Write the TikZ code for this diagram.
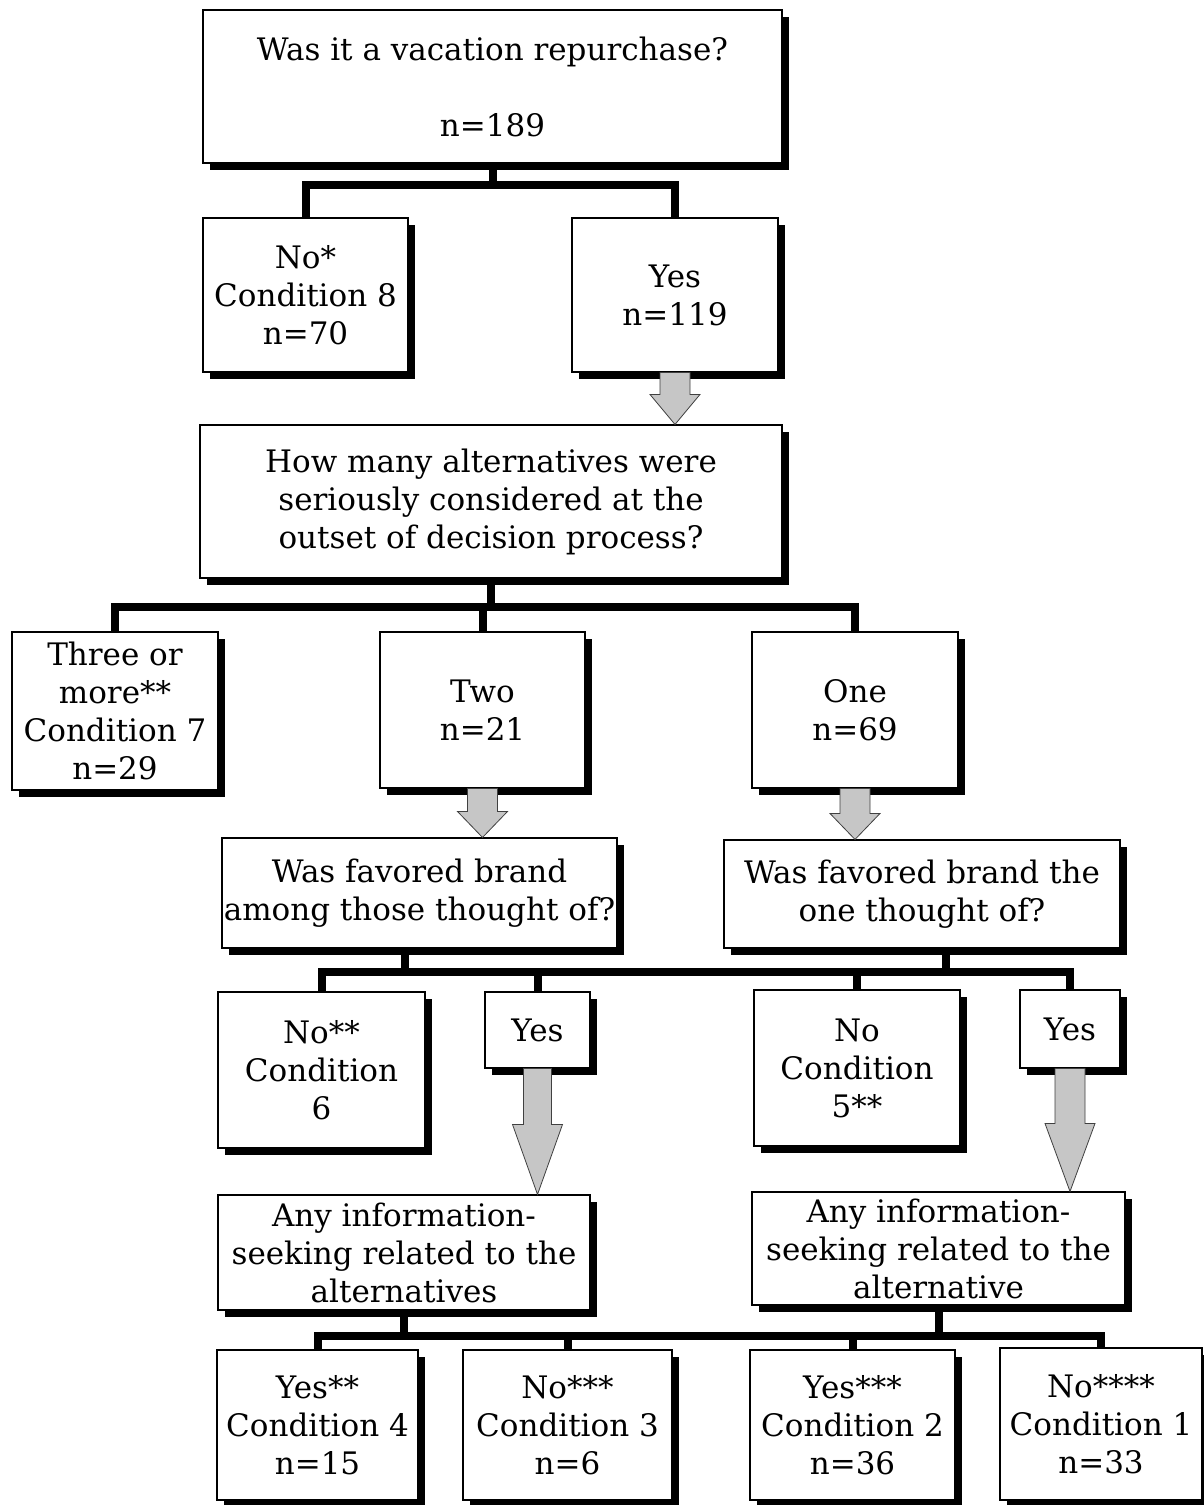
\documentclass[tikz,border=0pt]{standalone}
\usepackage{fontspec}
\setmainfont{DejaVu Serif}
\usetikzlibrary{calc,shadows,backgrounds}
\newcommand\fatarr[5]{%
  \path let \p1=(#1.south), \p2=(#2.north) in
    [fill=gray!45,draw=black!75,line width=0.8pt,line join=miter]
    (\x1-#3pt,\y1) -- (\x1+#3pt,\y1) -- (\x1+#3pt,\y2+#5pt) -- (\x1+#4pt,\y2+#5pt)
    -- (\x1,\y2) -- (\x1-#4pt,\y2+#5pt) -- (\x1-#3pt,\y2+#5pt) -- cycle;}
\tikzset{
  box/.style={draw=black,line width=1.1pt,fill=white,inner sep=0pt,align=center,
    font=\fontsize{31}{38}\selectfont,
    drop shadow={shadow xshift=7pt,shadow yshift=-7pt,opacity=1,fill=black}},
  conn/.style={draw=black,line width=8pt,line join=miter}
}
\begin{document}
\begin{tikzpicture}[x=1pt,y=-1pt]
\useasboundingbox (0,0) rectangle (1204,1505);
% nodes
\node[box,minimum width=579pt,minimum height=153pt] (q0) at (492.5,86.5) {Was it a vacation repurchase?\\[38pt]n=189};
\node[box,minimum width=205pt,minimum height=154pt] (no8) at (305.5,295) {No*\\Condition 8\\n=70};
\node[box,minimum width=206pt,minimum height=154pt] (yes119) at (675,295) {Yes\\n=119};
\node[box,minimum width=582pt,minimum height=153pt] (alt) at (491,501.5) {How many alternatives were\\seriously considered at the\\outset of decision process?};
\node[box,minimum width=206pt,minimum height=158pt] (three) at (115,711) {Three or\\more**\\Condition 7\\n=29};
\node[box,minimum width=205pt,minimum height=156pt] (two) at (482.5,710) {Two\\n=21};
\node[box,minimum width=206pt,minimum height=156pt] (one) at (855,710) {One\\n=69};
\node[box,minimum width=395pt,minimum height=110pt] (qL) at (419.5,893) {Was favored brand\\among those thought of?};
\node[box,minimum width=396pt,minimum height=108pt] (qR) at (922,894) {Was favored brand the\\one thought of?};
\node[box,minimum width=207pt,minimum height=156pt] (no6) at (321.5,1070) {No**\\Condition\\6};
\node[box,minimum width=105pt,minimum height=76pt] (yesL) at (537.5,1030) {Yes};
\node[box,minimum width=206pt,minimum height=156pt] (no5) at (857,1068) {No\\Condition\\5**};
\node[box,minimum width=100pt,minimum height=78pt] (yesR) at (1070,1029) {Yes};
\node[box,minimum width=372pt,minimum height=115pt] (infoL) at (404,1252.5) {Any information-\\seeking related to the\\alternatives};
\node[box,minimum width=373pt,minimum height=113pt] (infoR) at (938.5,1248.5) {Any information-\\seeking related to the\\alternative};
\node[box,minimum width=201pt,minimum height=150pt] (c4) at (317.5,1425) {Yes**\\Condition 4\\n=15};
\node[box,minimum width=209pt,minimum height=150pt] (c3) at (567.5,1425) {No***\\Condition 3\\n=6};
\node[box,minimum width=205pt,minimum height=150pt] (c2) at (852.5,1425) {Yes***\\Condition 2\\n=36};
\node[box,minimum width=202pt,minimum height=152pt] (c1) at (1101,1424) {No****\\Condition 1\\n=33};
% connectors
\begin{scope}[on background layer]
\fill[white] (0,0) rectangle (1204,1505);
\coordinate (b1) at (0,185);
\coordinate (b2) at (0,607);
\coordinate (b3) at (0,972);
\coordinate (b4) at (0,1336);
\coordinate (qLs) at ($(qL.south)+(-15,0)$);
\coordinate (qRs) at ($(qR.south)+(24,0)$);
\draw[conn] (q0.south) -- (q0.south |- b1) -| (no8.north);
\draw[conn] (q0.south |- b1) -| (yes119.north);
\draw[conn] (alt.south) -- (alt.south |- b2) -| (three.north);
\draw[conn] (alt.south |- b2) -| (two.north);
\draw[conn] (alt.south |- b2) -| (one.north);
\draw[conn] (qLs) -- (qLs |- b3) -| (no6.north);
\draw[conn] (qLs |- b3) -| (yesL.north);
\draw[conn] (qRs) -- (qRs |- b3) -| (no5.north);
\draw[conn] (qRs |- b3) -| (yesR.north);
\draw[conn] (qLs |- b3) -- (qRs |- b3);
\draw[conn] (infoL.south) -- (infoL.south |- b4) -| (c4.north);
\draw[conn] (infoL.south |- b4) -| (c3.north);
\draw[conn] (infoR.south) -- (infoR.south |- b4) -| (c2.north);
\draw[conn] (infoR.south |- b4) -| (c1.north);
\draw[conn] (infoL.south |- b4) -- (infoR.south |- b4);
\end{scope}
% arrows
\fatarr{yes119}{alt}{15}{25}{30}
\fatarr{two}{qL}{15}{25}{26}
\fatarr{one}{qR}{15}{25}{26}
\fatarr{yesL}{infoL}{14}{25}{70}
\fatarr{yesR}{infoR}{15}{25}{68}
\end{tikzpicture}
\end{document}
